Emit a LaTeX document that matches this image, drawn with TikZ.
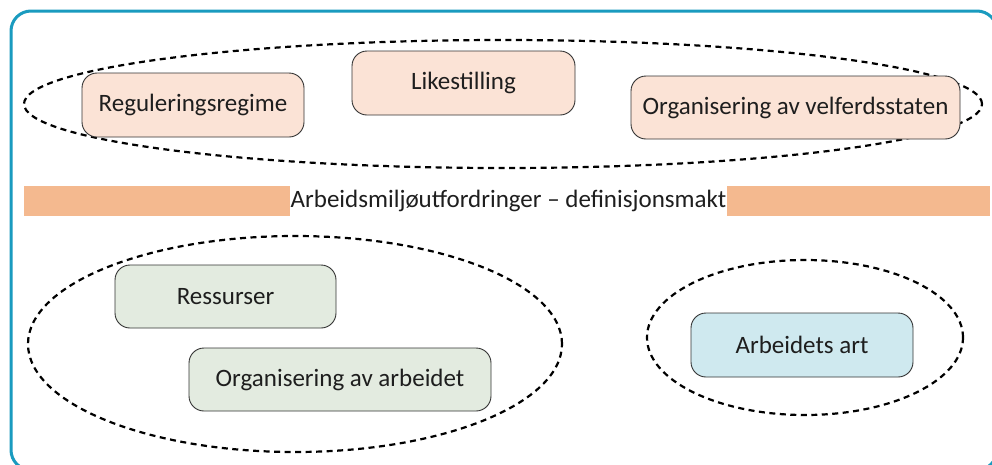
\documentclass[tikz,border=0pt]{standalone}
\usepackage{fontspec}
\setmainfont{Carlito}
\usetikzlibrary{shapes.geometric}
\definecolor{frameteal}{HTML}{1A9BBF}
\definecolor{peach}{HTML}{FBE3D6}
\definecolor{bar}{HTML}{F4B98F}
\definecolor{sage}{HTML}{E3EBE0}
\definecolor{skyblue}{HTML}{CFE9EF}
\definecolor{txt}{HTML}{1E1E1E}
\tikzset{
  box/.style={draw=black!80, line width=0.9pt, rounded corners=15pt, inner sep=0pt, text=txt, font=\fontsize{25}{30}\selectfont},
  group/.style={draw=black, line width=2.2pt, dash pattern=on 6pt off 4.5pt},
}
\begin{document}
\begin{tikzpicture}[x=1pt,y=-1pt]
\useasboundingbox (0,0) rectangle (992,464);
\fill[white] (0,0) rectangle (992,464);
\draw[frameteal, line width=3pt, rounded corners=20pt] (11,11) rectangle (997,470);
% top group
\node[group, ellipse, minimum width=958pt, minimum height=128pt, inner sep=0pt] (topgrp) at (503,104) {};
\node[box, fill=peach, minimum width=222pt, minimum height=64pt] (reg) at (193,105) {Reguleringsregime};
\node[box, fill=peach, minimum width=223pt, minimum height=64pt] (like) at (463.5,83) {Likestilling};
\node[box, fill=peach, minimum width=329pt, minimum height=63pt] (org) at (795.5,107.5) {Organisering av velferdsstaten};
% bar
\fill[bar] (24,186) rectangle (990,216);
\node[fill=white, minimum height=30pt, inner xsep=1pt, inner ysep=0pt, text=txt, font=\fontsize{25}{30}\selectfont] (bartext) at (508.5,201) {Arbeidsmiljøutfordringer – definisjonsmakt};
% lower left group
\node[group, ellipse, minimum width=534pt, minimum height=216pt, inner sep=0pt] (leftgrp) at (295,344) {};
\node[box, fill=sage, minimum width=221pt, minimum height=63pt] (res) at (225.5,296.5) {Ressurser};
\node[box, fill=sage, minimum width=302pt, minimum height=63pt] (orgarb) at (340,379.5) {Organisering av arbeidet};
% right group
\node[group, ellipse, minimum width=316pt, minimum height=155pt, inner sep=0pt] (rightgrp) at (805,337.5) {};
\node[box, fill=skyblue, minimum width=222pt, minimum height=64pt] (art) at (802,345) {Arbeidets art};
\end{tikzpicture}
\end{document}
